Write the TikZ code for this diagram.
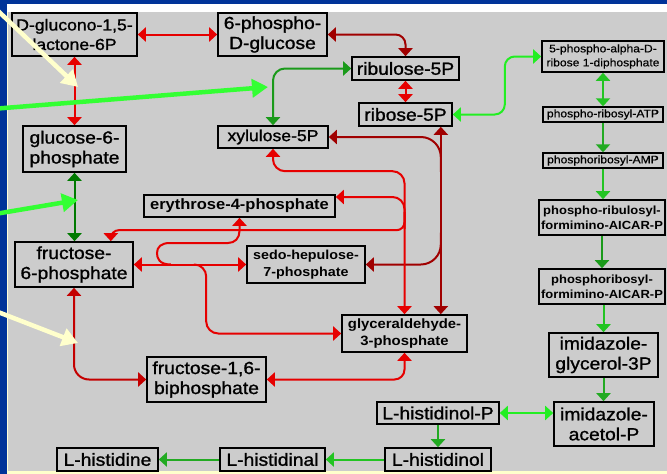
\documentclass[tikz,border=0pt]{standalone}
\usepackage{fontspec}
\newfontfamily\dfont{Liberation Sans}[FakeStretch=1.1]
\newfontfamily\hfont{Liberation Sans}[FakeStretch=1.1,FakeBold=1.2]
\newfontfamily\sfont{Liberation Sans}[FakeStretch=1.1,FakeBold=0.5]
\usetikzlibrary{arrows.meta,calc}
\definecolor{bgray}{HTML}{CCCCCC}
\definecolor{fblue}{HTML}{003399}
\definecolor{pyel}{HTML}{FFFFCC}
\definecolor{redB}{HTML}{E60000}
\definecolor{redD}{HTML}{A00000}
\definecolor{redM}{HTML}{C40000}
\definecolor{grD}{HTML}{007A00}
\definecolor{grA}{HTML}{1A9A1A}
\definecolor{grB}{HTML}{22AA22}
\definecolor{grC}{HTML}{22C422}
\definecolor{grL}{HTML}{22EE22}
\definecolor{grO}{HTML}{33FF33}
\begin{document}
\begin{tikzpicture}[x=1pt,y=-1pt,
  >={Triangle[length=8pt,width=14pt]},
  box/.style={draw=black,line width=1.6pt,fill=bgray,inner sep=0pt,align=center,
    font={\hfont\fontsize{17.5}{20}\selectfont}},
  bigtxt16/.style={font={\hfont\fontsize{16}{19.5}\selectfont}},
  medb/.style={font={\dfont\bfseries\fontsize{#1}{\dimexpr #1pt+3.5pt\relax}\selectfont}},
  smallt/.style={font={\sfont\fontsize{11}{14}\selectfont}},
  conn/.style={line width=2pt},
  ovl/.style={line width=4.5pt,-{Triangle[length=16pt,width=18pt]}}
]
\useasboundingbox (0,0) rectangle (667,474);
\clip (0,0) rectangle (667,474);
% frame and background
\fill[fblue] (0,0) rectangle (667,474);
\fill[white] (7,4) rectangle (667,12);
\fill[bgray] (8,12) rectangle (667,471);
\fill[white!85!yellow] (7,12) rectangle (8,471);
\fill[pyel] (7,471) rectangle (667,474);

% nodes
\node[box,bigtxt16,minimum width=125pt,minimum height=43pt] (gluc) at (74.5,34.5) {D-glucono-1,5-\\lactone-6P};
\node[box,minimum width=109pt,minimum height=43pt] (pglu) at (272.5,34.5) {6-phospho-\\D-glucose};
\node[box,minimum width=107pt,minimum height=23pt] (rul) at (405.5,68.5) {ribulose-5P};
\node[box,minimum width=93pt,minimum height=23pt] (rib) at (405.5,114.5) {ribose-5P};
\node[box,smallt,minimum width=122pt,minimum height=31pt] (prpp) at (603,56.5) {5-phospho-alpha-D-\\ribose 1-diphosphate};
\node[box,smallt,minimum width=120pt,minimum height=15pt,line width=1.4pt] (atp) at (603,114.5) {phospho-ribosyl-ATP};
\node[box,smallt,minimum width=120pt,minimum height=15pt,line width=1.4pt] (amp) at (603,160.5) {phosphoribosyl-AMP};
\node[box,medb=11.8,minimum width=126pt,minimum height=35pt] (prf) at (602,217.5) {phospho-ribulosyl-\\formimino-AICAR-P};
\node[box,medb=11.8,minimum width=126pt,minimum height=35pt] (prfa) at (602,286.5) {phosphoribosyl-\\formimino-AICAR-P};
\node[box,minimum width=109pt,minimum height=44pt] (igp) at (603.5,355) {imidazole-\\glycerol-3P};
\node[box,minimum width=100pt,minimum height=44pt] (iap) at (604,424) {imidazole-\\acetol-P};
\node[box,minimum width=122pt,minimum height=22pt] (hpP) at (438,413) {L-histidinol-P};
\node[box,minimum width=106pt,minimum height=23pt] (hol) at (438,459.5) {L-histidinol};
\node[box,minimum width=105pt,minimum height=23pt] (hal) at (272.5,459.5) {L-histidinal};
\node[box,minimum width=101pt,minimum height=23pt] (his) at (107.5,459.5) {L-histidine};
\node[box,minimum width=103pt,minimum height=46pt] (g6p) at (74.5,149) {glucose-6-\\phosphate};
\node[box,bigtxt16,minimum width=110pt,minimum height=22pt] (x5p) at (273,137) {xylulose-5P};
\node[box,medb=15,minimum width=191pt,minimum height=22pt] (e4p) at (239.5,206) {erythrose-4-phosphate};
\node[box,minimum width=118pt,minimum height=45pt] (f6p) at (74,264.5) {fructose-\\6-phosphate};
\node[box,medb=13,minimum width=118pt,minimum height=37pt] (s7p) at (306,264.5) {sedo-hepulose-\\7-phosphate};
\node[box,medb=13.5,minimum width=125pt,minimum height=37pt] (gap) at (404.5,333.5) {glyceraldehyde-\\3-phosphate};
\node[box,minimum width=119pt,minimum height=45pt] (fbp) at (206.5,379.5) {fructose-1,6-\\biphosphate};

% red connectors
\draw[conn,redB,<->] (gluc.east) -- (pglu.west);
\draw[conn,redB,<->] (gluc.south) -- (g6p.north);
\draw[conn,redD,<->,rounded corners=10pt] (pglu.east) -| (rul.north);
\draw[conn,redB,<->] (rul.south) -- (rib.north);
% transketolase (ribose / xylulose -> sedoheptulose / glyceraldehyde)
\coordinate (tk1) at ([xshift=-12pt]rib.south east);
\draw[conn,redD,<->] (tk1) -- (tk1 |- gap.north);
\draw[conn,redD,<-,rounded corners=20pt] (x5p.east) -| ($(tk1)+(0,45)$);
\draw[conn,redD,<-,rounded corners=20pt] (s7p.east) -| ($(tk1 |- s7p.east)+(0,-32)$);
% transketolase (xylulose / erythrose -> fructose / glyceraldehyde)
\draw[conn,redB,<->,rounded corners=12pt] (x5p.south) |- ($(gap.north)+(0,-143)$) -- (gap.north);
\draw[conn,redB,<-,rounded corners=12pt] ([yshift=9pt]e4p.east) -| ($(gap.north)+(0,-85)$);
\coordinate (f6ptop) at ([xshift=-23pt]f6p.north east);
\draw[conn,redB,->,rounded corners=8pt] ($(gap.north)+(0,-102)$) |- ($(f6ptop)+(0,-11)$) -- (f6ptop);
% transaldolase
\draw[conn,redB,<->] (f6p.east) -- (s7p.west);
\coordinate (lps) at ($(f6p.east)+(37,0)$);
\draw[conn,redB,->] (lps) .. controls (159,264.5) and (157,258) .. (157,253)
  .. controls (157,247) and (161,243) .. (170,243) -- (228,243)
  .. controls (235,243) and (239.5,238) .. (239.5,231) -- (e4p.south);
\coordinate (tabr) at ($(gap.west)+(-135,0)$);
\draw[conn,redB,->,rounded corners=12pt] ($(f6p.east)+(60,0)$) -| (tabr) -- (gap.west);
% aldolase
\draw[conn,redM,<->,rounded corners=15pt] (f6p.south) |- (fbp.west);
\draw[conn,redB,<->,rounded corners=10pt] (fbp.east) -| (gap.south);

% green connectors
\draw[conn,grD,<->] (g6p.south) -- (g6p.south |- f6p.north);
\draw[conn,grA,<->,rounded corners=12pt] (rul.west) -| (x5p.north);
\draw[conn,grL,<->,rounded corners=10pt] (rib.east) -- ++(52,0) |- (prpp.west);
\draw[conn,grC,<->] (prpp.south) -- (atp.north);
\draw[conn,grB,->] (atp.south) -- (amp.north);
\draw[conn,grC,->] (amp.south) -- (amp.south |- prf.north);
\draw[conn,grA,->] (prf.south) -- (prfa.north);
\draw[conn,grC,->] (igp.north |- prfa.south) -- (igp.north);
\draw[conn,grB,->] (igp.south) -- (igp.south |- iap.north);
\draw[conn,grL,<->] (hpP.east) -- (iap.west |- hpP.east);
\draw[conn,grB,->] (hpP.south) -- (hol.north);
\draw[conn,grC,->] (hol.west) -- (hal.east);
\draw[conn,grB,->] (hal.west) -- (his.east);

% overlay pointer arrows
\coordinate (y1a) at (-4,9);    \coordinate (y1b) at (78,87);
\coordinate (g1a) at (-2,108.5); \coordinate (g1b) at (268,87);
\coordinate (g2a) at (-2,213.5); \coordinate (g2b) at (78,200);
\coordinate (y2a) at (-2,312);  \coordinate (y2b) at (78,343);
\draw[ovl,pyel] (y1a) -- (y1b);
\draw[ovl,grO] (g1a) -- (g1b);
\draw[ovl,grO] (g2a) -- (g2b);
\draw[ovl,pyel] (y2a) -- (y2b);
\end{tikzpicture}
\end{document}
